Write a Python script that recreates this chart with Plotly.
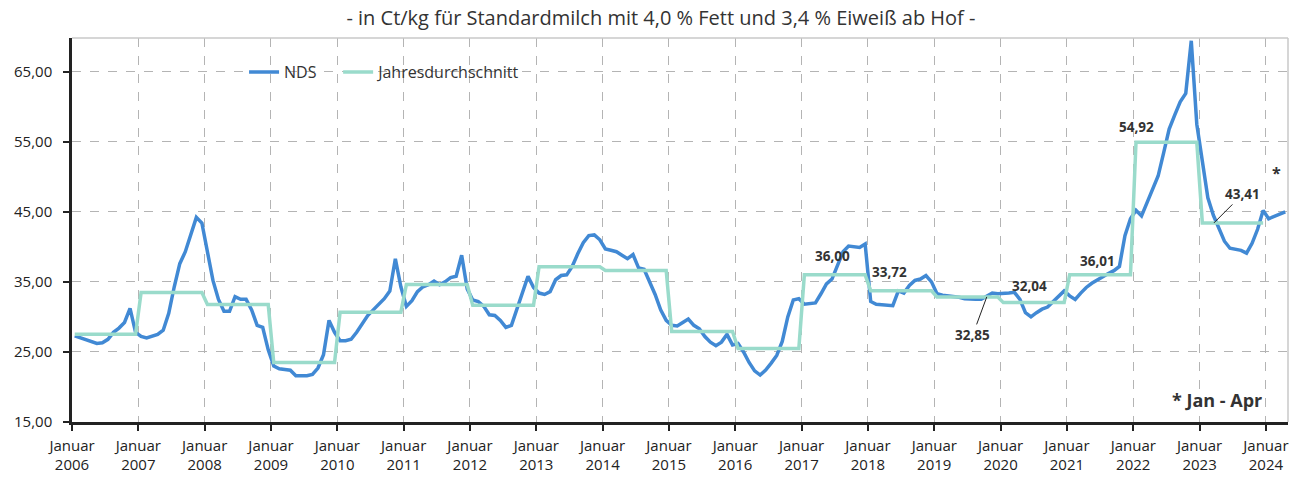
import numpy as np
import plotly.graph_objects as go

years = list(range(2006, 2025))
tick_labels = [f"Januar<br>{y}" for y in years]

# NDS monthly milk price, Jan 2006 .. Apr 2024 (Ct/kg)
nds = [
    27.3, 27.0, 26.7, 26.4, 26.2, 26.3, 26.8, 27.8, 28.4, 29.2, 31.2, 27.8,   # 2006
    27.2, 27.0, 27.2, 27.5, 28.1, 30.5, 34.3, 37.6, 39.3, 41.6, 44.2, 43.4,   # 2007
    39.5, 35.2, 32.5, 30.8, 30.8, 32.9, 32.5, 32.5, 31.0, 28.8, 28.5, 25.3,   # 2008
    23.0, 22.6, 22.5, 22.4, 21.6, 21.6, 21.6, 21.8, 22.7, 24.6, 29.5, 27.8,   # 2009
    26.6, 26.6, 26.8, 27.8, 29.0, 30.2, 31.0, 31.8, 32.6, 33.7, 38.3, 34.3,   # 2010
    31.5, 32.3, 33.6, 34.3, 34.6, 35.1, 34.6, 35.0, 35.6, 35.8, 38.8, 34.0,   # 2011
    32.4, 32.2, 31.5, 30.3, 30.2, 29.5, 28.5, 28.8, 31.2, 33.5, 35.8, 34.2,   # 2012
    33.4, 33.2, 33.6, 35.3, 35.9, 36.0, 37.2, 39.0, 40.6, 41.6, 41.7, 41.0,   # 2013
    39.7, 39.5, 39.3, 38.8, 38.3, 38.9, 37.0, 36.8, 35.0, 33.2, 31.0, 29.5,   # 2014
    28.8, 28.7, 29.2, 29.7, 28.8, 28.3, 27.2, 26.4, 25.9, 26.4, 27.5, 26.0,   # 2015
    26.2, 25.0, 23.5, 22.3, 21.7, 22.4, 23.4, 24.5, 26.5, 30.0, 32.4, 32.6,   # 2016
    31.8, 31.9, 32.0, 33.3, 34.7, 35.4, 37.5, 39.3, 40.1, 40.0, 39.9, 40.4,   # 2017
    32.2, 31.8, 31.7, 31.6, 31.6, 33.7, 33.4, 34.5, 35.2, 35.4, 35.9, 35.0,   # 2018
    33.3, 33.1, 33.0, 33.0, 32.8, 32.6, 32.5, 32.5, 32.5, 33.0, 33.4, 33.3,   # 2019
    33.3, 33.4, 33.5, 32.5, 30.6, 30.0, 30.6, 31.1, 31.4, 32.2, 33.0, 33.7,   # 2020
    33.0, 32.5, 33.4, 34.2, 34.8, 35.3, 35.8, 36.2, 36.6, 37.2, 41.6, 44.0,   # 2021
    45.2, 44.4, 46.3, 48.2, 50.1, 53.4, 56.8, 58.8, 60.7, 61.9, 69.4, 57.5,   # 2022
    52.0, 47.0, 44.5, 42.5, 40.8, 39.8, 39.7, 39.5, 39.1, 40.5, 42.5, 45.2,   # 2023
    44.0, 44.3, 44.7, 45.0,                                                   # 2024 (Jan-Apr)
]

# annual averages 2006..2023
annual_years = list(range(2006, 2024))
annual = [27.53, 33.49, 31.77, 23.48, 30.67, 34.63, 31.65, 37.14, 36.63,
          27.91, 25.49, 36.00, 33.72, 32.85, 32.04, 36.01, 54.92, 43.41]

# labelled annual values
label_years = [2017, 2018, 2019, 2020, 2021, 2022, 2023]
label_text = ["36,00", "33,72", "32,85", "32,04", "36,01", "54,92", "43,41"]

y_ticks = [15, 25, 35, 45, 55, 65]
y_tick_text = ["15,00", "25,00", "35,00", "45,00", "55,00", "65,00"]

BLUE = "#4189d4"
TEAL = "#9adbcb"
FONT = "Open Sans, Lato, sans-serif"

x_nds = np.arange(len(nds)) + 0.5
annual_monthly = np.repeat(annual, 12)
x_ann = np.arange(len(annual_monthly)) + 0.5

fig = go.Figure()
fig.add_trace(go.Scatter(x=x_nds, y=nds, mode="lines", name="NDS\u00a0\u00a0\u00a0\u00a0",
                         line=dict(color=BLUE, width=3.5)))
fig.add_trace(go.Scatter(x=x_ann, y=annual_monthly, mode="lines",
                         name="Jahresdurchschnitt",
                         line=dict(color=TEAL, width=3.5)))

def year_x(year, offset):
    return (year - years[0]) * 12 + offset

LBL_FONT = dict(family=FONT, size=13.5, color="#333")
anns = []
placement = {
    2017: (5.5, 2.7),
    2018: (3.9, 2.7),
    2020: (5.2, 2.4),
    2021: (5.5, 2.0),
    2022: (0.5, 2.2),
}
for yr, txt in zip(label_years, label_text):
    val = annual[annual_years.index(yr)]
    if yr in placement:
        off, dv = placement[yr]
        anns.append(dict(x=year_x(yr, off), y=val + dv, text=f"<b>{txt}</b>", showarrow=False,
                         font=LBL_FONT, xref="x", yref="y"))
    elif yr == 2019:
        anns.append(dict(x=year_x(yr, 9.5), y=val, text=f"<b>{txt}</b>", showarrow=True,
                         arrowhead=0, arrowwidth=1, arrowcolor="#222",
                         ax=-14, ay=38, font=LBL_FONT, xref="x", yref="y"))
    elif yr == 2023:
        anns.append(dict(x=year_x(yr, 2.6), y=val, text=f"<b>{txt}</b>", showarrow=True,
                         arrowhead=0, arrowwidth=1, arrowcolor="#222",
                         ax=29, ay=-29, font=LBL_FONT, xref="x", yref="y"))

anns.append(dict(x=year_x(2024, 1.9), y=50.5, text="<b>*</b>", showarrow=False,
                 font=dict(family=FONT, size=16, color="#333"), xref="x", yref="y"))
anns.append(dict(x=0.942, y=0.058, text="<b>* Jan - Apr</b>", showarrow=False,
                 font=dict(family=FONT, size=18, color="#333"),
                 xref="paper", yref="paper", xanchor="center", yanchor="middle"))

fig.update_layout(
    width=1294, height=473,
    margin=dict(l=64, r=14, t=30, b=59, autoexpand=False),
    paper_bgcolor="white", plot_bgcolor="white",
    font=dict(family=FONT, size=15, color="#222"),
    title=dict(text="- in Ct/kg für Standardmilch mit 4,0 % Fett und 3,4 % Eiweiß ab Hof -",
               x=0.5046, y=0.9789, xref="container", yref="container",
               xanchor="center", yanchor="middle",
               font=dict(family=FONT, size=20, color="#333")),
    showlegend=True,
    legend=dict(orientation="h", x=0.1415, y=0.911, xanchor="left", yanchor="middle",
                bgcolor="rgba(0,0,0,0)", font=dict(family=FONT, size=16, color="#333"),
                tracegroupgap=0),
    annotations=anns,
    shapes=[
        dict(type="line", xref="paper", yref="paper", x0=0, x1=1, y0=1, y1=1,
             line=dict(color="#c8c8c8", width=1.5)),
        dict(type="line", xref="paper", yref="paper", x0=1, x1=1, y0=0, y1=1,
             line=dict(color="#c8c8c8", width=1.5)),
    ],
)

fig.update_xaxes(
    range=[0, 220], tickmode="array",
    tickvals=[(y - years[0]) * 12 for y in years], ticktext=tick_labels,
    showgrid=True, gridcolor="#b4b4b4", griddash="dash", gridwidth=1,
    showline=True, linecolor="#222", linewidth=2.5,
    ticks="outside", ticklen=6, tickcolor="#222", tickwidth=1.5,
    tickfont=dict(family=FONT, size=15, color="#222"),
    ticklabelstandoff=2,
    zeroline=False, fixedrange=True, automargin=False,
)
fig.update_yaxes(
    range=[15, 69.8], tickmode="array", tickvals=y_ticks, ticktext=y_tick_text,
    showgrid=True, gridcolor="#b4b4b4", griddash="dash", gridwidth=1,
    showline=True, linecolor="#222", linewidth=2.5,
    ticks="outside", ticklen=6, tickcolor="#222", tickwidth=1.5,
    tickfont=dict(family=FONT, size=15, color="#222"),
    ticklabelstandoff=8,
    zeroline=False, fixedrange=True, automargin=False,
)

fig.write_html("out.html")
